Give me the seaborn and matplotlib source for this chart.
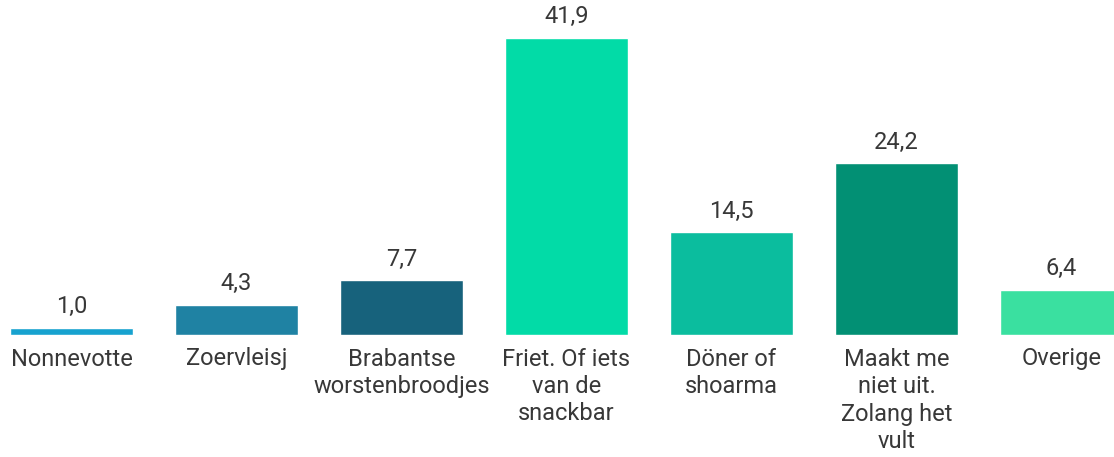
import matplotlib
matplotlib.use('Agg')
import matplotlib.pyplot as plt
import pandas as pd
import seaborn as sns

categories = ['Nonnevotte', 'Zoervleisj', 'Brabantse\nworstenbroodjes', 'Friet. Of iets\nvan de\nsnackbar',
              'Döner of\nshoarma', 'Maakt me\nniet uit.\nZolang het\nvult', 'Overige']
values = [1.0, 4.3, 7.7, 41.9, 14.5, 24.2, 6.4]
colors = ['#17A2CF', '#1F82A3', '#17627C', '#02DBA7', '#0BBD9E', '#029074', '#3AE0A0']

df = pd.DataFrame({'categorie': categories, 'waarde': values})

sns.set_style('white')
plt.rcParams['font.family'] = ['Roboto', 'DejaVu Sans']

fig = plt.figure(figsize=(11.14, 4.57), dpi=100)
ax = fig.add_axes([0, 122 / 457, 1, 335 / 457])

sns.barplot(data=df, x='categorie', y='waarde', hue='categorie', palette=colors,
            legend=False, width=0.745, saturation=1, ax=ax)

labels = [f'{v:.1f}'.replace('.', ',') for v in values]
for cont, lab in zip(ax.containers, labels):
    ax.bar_label(cont, labels=[lab], padding=7, fontsize=17, color='#383838')

ax.set_xlim(-71.5 / 165, (1114 - 71.5) / 165)
ax.set_ylim(0, 47.25)
ax.set_xlabel('')
ax.set_ylabel('')
ax.set_yticks([])
ax.tick_params(axis='x', length=0, pad=9, labelsize=17, labelcolor='#383838')
for t in ax.get_xticklabels():
    t.set_linespacing(1.25)
sns.despine(ax=ax, left=True, bottom=True)

fig.savefig('out.png', dpi=100)
